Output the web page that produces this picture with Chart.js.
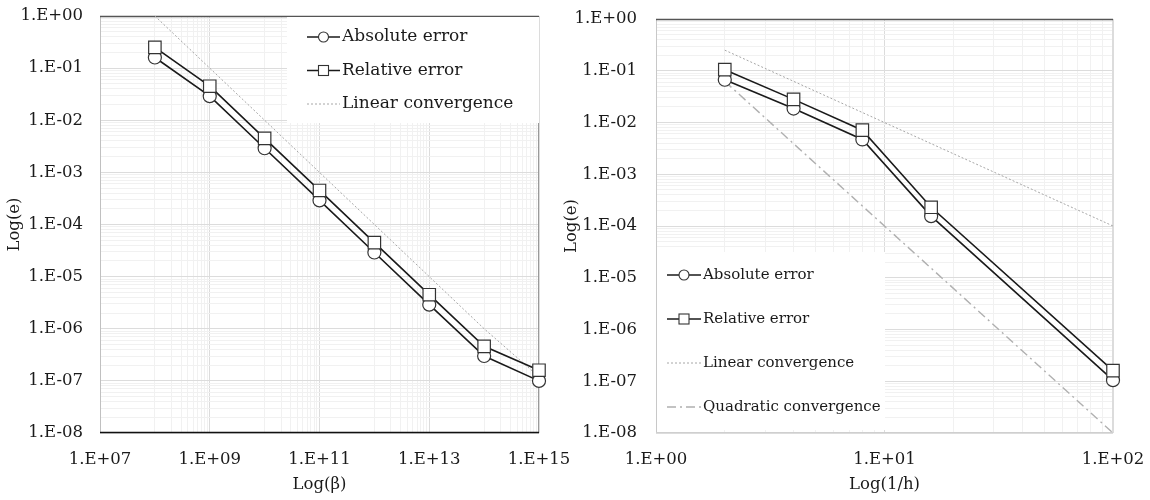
<!DOCTYPE html>
<html>
<head>
<meta charset="utf-8">
<script src="https://cdn.jsdelivr.net/npm/chart.js@4.4.0/dist/chart.umd.min.js"></script>
<style>
    html, body { margin: 0; padding: 0; background: #fff; }
    #wrap { position: relative; width: 1150px; height: 500px; }
    .panel { position: absolute; top: 0; height: 500px; }
</style>
</head>
<body>
<div id="wrap">
    <div class="panel" style="left:0;width:575px"><canvas id="chartBeta" width="575" height="500"></canvas></div>
    <div class="panel" style="left:558px;width:592px"><canvas id="chartH" width="592" height="500"></canvas></div>
</div>
<script>
// LEFT PANEL - error vs beta
const betaValues   = [1e8, 1e9, 1e10, 1e11, 1e12, 1e13, 1e14, 1e15];
const betaAbsError = [0.16, 0.029, 0.0029, 2.9e-4, 2.9e-5, 2.9e-6, 3.0e-7, 1.0e-7];
const betaRelError = [0.25, 0.045, 0.0045, 4.5e-4, 4.5e-5, 4.5e-6, 4.6e-7, 1.6e-7];
const betaLinear   = [1, 1e-1, 1e-2, 1e-3, 1e-4, 1e-5, 1e-6, 1.2e-7];
const betaTicks    = [1e7, 1e9, 1e11, 1e13, 1e15];

// RIGHT PANEL - error vs 1/h
const invH       = [2, 4, 8, 16, 100];
const hAbsError  = [0.067, 0.0186, 0.0047, 1.55e-4, 1.05e-7];
const hRelError  = [0.105, 0.028, 0.0071, 2.3e-4, 1.6e-7];
const hLinear    = [0.25, 0.0625, 0.0156, 0.0039, 1e-4];
const hQuadratic = [0.0625, 0.0039, 2.44e-4, 1.53e-5, 1e-8];
const hTicks     = [1, 10, 100];

const errorTicks = [1, 1e-1, 1e-2, 1e-3, 1e-4, 1e-5, 1e-6, 1e-7, 1e-8];

const FONT = "'DejaVu Serif', serif";

function fmt(v) {
    const e = Math.round(Math.log10(v));
    return '1.E' + (e < 0 ? '-' : '+') + String(Math.abs(e)).padStart(2, '0');
}

function isIn(list, v) {
    return list.some(m => Math.abs(Math.log10(m) - Math.log10(v)) < 1e-6);
}

// minor grid lines 2..9 in every decade
function decadeMinors(min, max) {
    const out = [];
    for (let e = Math.round(Math.log10(min)); e < Math.round(Math.log10(max)); e++) {
        for (let k = 2; k <= 9; k++) out.push(k * Math.pow(10, e));
    }
    return out;
}

// beta axis: minor lines only in the even decades
function betaMinors() {
    const out = [];
    [8, 10, 12, 14].forEach(e => {
        for (let k = 1; k <= 9; k++) out.push(k * Math.pow(10, e));
    });
    return out;
}

// gap between axis and labels goes in an invisible tick mark,
// ticks.padding would also grow the layout padding
function logAxis(min, max, majors, minors, title, gap, titlePad, fitFn) {
    return {
        type: 'logarithmic',
        min: min,
        max: max,
        afterBuildTicks: function (scale) {
            scale.ticks = minors.map(v => ({ value: v })).concat(majors.map(v => ({ value: v, major: true })));
        },
        afterFit: fitFn,
        grid: {
            drawTicks: true,
            tickLength: gap - 3,
            tickColor: 'rgba(0,0,0,0)',
            color: (ctx) => (ctx.tick && isIn(majors, ctx.tick.value)) ? '#dcdcdc' : '#f1f1f1',
            lineWidth: 1
        },
        border: { display: false },
        ticks: {
            autoSkip: false,
            maxRotation: 0,
            padding: 3,
            color: '#1a1a1a',
            font: { family: FONT, size: 16.5 },
            callback: (v) => isIn(majors, v) ? fmt(v) : ''
        },
        title: {
            display: true,
            text: title,
            color: '#1a1a1a',
            padding: titlePad,
            font: { family: FONT, size: 16.5 }
        }
    };
}

function series(label, xs, ys, style) {
    return Object.assign({
        label: label,
        data: xs.map((x, i) => ({ x: x, y: ys[i] })),
        tension: 0,
        clip: false
    }, style);
}

const absStyle = { borderColor: '#1a1a1a', borderWidth: 1.6, pointStyle: 'circle', pointRadius: 6.5,
    pointBackgroundColor: '#fff', pointBorderColor: '#333', pointBorderWidth: 1.2, order: 1 };
const relStyle = { borderColor: '#1a1a1a', borderWidth: 1.6, pointStyle: 'rect', pointRadius: 8.8,
    pointBackgroundColor: '#fff', pointBorderColor: '#333', pointBorderWidth: 1.2, order: 0 };
const linStyle = { borderColor: '#a6a6a6', borderWidth: 1, borderDash: [2, 2], pointRadius: 0, order: 2 };
const quadStyle = { borderColor: '#b0b0b0', borderWidth: 1.4, borderDash: [9, 4, 2, 4], pointRadius: 0, order: 3 };

// plot frame lines
const framePlugin = {
    id: 'frame',
    beforeDatasetsDraw(chart, args, opts) {
        const a = chart.chartArea, ctx = chart.ctx;
        const side = (color, x1, y1, x2, y2, w) => {
            ctx.save();
            ctx.strokeStyle = color;
            ctx.lineWidth = w || 1;
            ctx.beginPath();
            ctx.moveTo(x1, y1);
            ctx.lineTo(x2, y2);
            ctx.stroke();
            ctx.restore();
        };
        side(opts.left, a.left + 0.5, a.top, a.left + 0.5, a.bottom);
        side(opts.right, a.right - 0.5, a.top, a.right - 0.5, a.bottom);
        side(opts.bottom, a.left, a.bottom - 0.5, a.right, a.bottom - 0.5, opts.bottomWidth);
        side(opts.top, a.left, a.top + 0.5, a.right, a.top + 0.5, opts.topWidth);
    }
};

// legend boxed inside the plot
const insetLegend = {
    id: 'insetLegend',
    afterDatasetsDraw(chart, args, o) {
        const a = chart.chartArea, ctx = chart.ctx;
        const x0 = o.anchor === 'topRight' ? a.right - o.width : a.left + 1;
        const y0 = o.anchor === 'topRight' ? a.top + 1 : a.bottom - o.bottomGap - o.height;
        ctx.save();
        ctx.fillStyle = '#fff';
        ctx.fillRect(x0, y0, o.width, o.height);
        chart.data.datasets.forEach((ds, i) => {
            const y = y0 + o.firstRow + i * o.rowGap;
            const sx1 = x0 + o.sampleX, sx2 = sx1 + o.sampleW;
            ctx.strokeStyle = ds.borderColor;
            ctx.lineWidth = ds.pointRadius ? 1.3 : ds.borderWidth;
            ctx.setLineDash(ds.borderDash || []);
            ctx.beginPath();
            ctx.moveTo(sx1, y);
            ctx.lineTo(sx2, y);
            ctx.stroke();
            ctx.setLineDash([]);
            const cx = (sx1 + sx2) / 2;
            if (ds.pointStyle === 'circle' && ds.pointRadius) {
                ctx.fillStyle = '#fff';
                ctx.strokeStyle = '#333';
                ctx.lineWidth = 1.1;
                ctx.beginPath();
                ctx.arc(cx, y, 5, 0, Math.PI * 2);
                ctx.fill();
                ctx.stroke();
            } else if (ds.pointStyle === 'rect' && ds.pointRadius) {
                ctx.fillStyle = '#fff';
                ctx.strokeStyle = '#333';
                ctx.lineWidth = 1.1;
                ctx.fillRect(cx - 5, y - 5, 10, 10);
                ctx.strokeRect(cx - 5, y - 5, 10, 10);
            }
            ctx.fillStyle = '#1a1a1a';
            ctx.font = o.fontSize + 'px ' + FONT;
            ctx.textBaseline = 'middle';
            ctx.textAlign = 'left';
            ctx.fillText(ds.label, sx2 + 2, y);
        });
        ctx.restore();
    }
};

Chart.register(framePlugin, insetLegend);

// LEFT CHART
new Chart(document.getElementById('chartBeta').getContext('2d'), {
    type: 'line',
    data: {
        datasets: [
            series('Absolute error', betaValues, betaAbsError, absStyle),
            series('Relative error', betaValues, betaRelError, relStyle),
            series('Linear convergence', betaValues, betaLinear, linStyle)
        ]
    },
    options: {
        responsive: false,
        animation: false,
        layout: { padding: { top: 16, right: 36, left: 0, bottom: 0 } },
        plugins: {
            legend: { display: false },
            tooltip: { enabled: false },
            frame: { top: '#555', bottom: '#111', left: '#c0c0c0', right: '#9a9a9a', topWidth: 1.3, bottomWidth: 1.3 },
            insetLegend: { anchor: 'topRight', width: 252, height: 106, bottomGap: 0, firstRow: 20, rowGap: 33.5,
                sampleX: 20, sampleW: 33, fontSize: 17 }
        },
        scales: {
            x: logAxis(1e7, 1e15, betaTicks, betaMinors(), 'Log(β)', 17, { top: 0, bottom: 5 },
                (s) => { s.height = 67; }),
            y: logAxis(1e-8, 1, errorTicks, decadeMinors(1e-8, 1), 'Log(e)', 17, { top: 5, bottom: 0 },
                (s) => { s.width = 100; })
        }
    }
});

// RIGHT CHART
new Chart(document.getElementById('chartH').getContext('2d'), {
    type: 'line',
    data: {
        datasets: [
            series('Absolute error', invH, hAbsError, absStyle),
            series('Relative error', invH, hRelError, relStyle),
            series('Linear convergence', invH, hLinear, linStyle),
            series('Quadratic convergence', invH, hQuadratic, quadStyle)
        ]
    },
    options: {
        responsive: false,
        animation: false,
        layout: { padding: { top: 19, right: 37, left: 0, bottom: 0 } },
        plugins: {
            legend: { display: false },
            tooltip: { enabled: false },
            frame: { top: '#555', bottom: '#cfcfcf', left: '#c8c8c8', right: '#dcdcdc', topWidth: 1.3, bottomWidth: 1 },
            insetLegend: { anchor: 'bottomLeft', width: 228, height: 178, bottomGap: 3, firstRow: 23, rowGap: 44,
                sampleX: 10, sampleW: 34, fontSize: 15 }
        },
        scales: {
            x: logAxis(1, 100, hTicks, decadeMinors(1, 100), 'Log(1/h)', 17, { top: 0, bottom: 5 },
                (s) => { s.height = 67; }),
            y: logAxis(1e-8, 1, errorTicks, decadeMinors(1e-8, 1), 'Log(e)', 19, { top: 4, bottom: 0 },
                (s) => { s.width = 98; })
        }
    }
});
</script>
</body>
</html>
